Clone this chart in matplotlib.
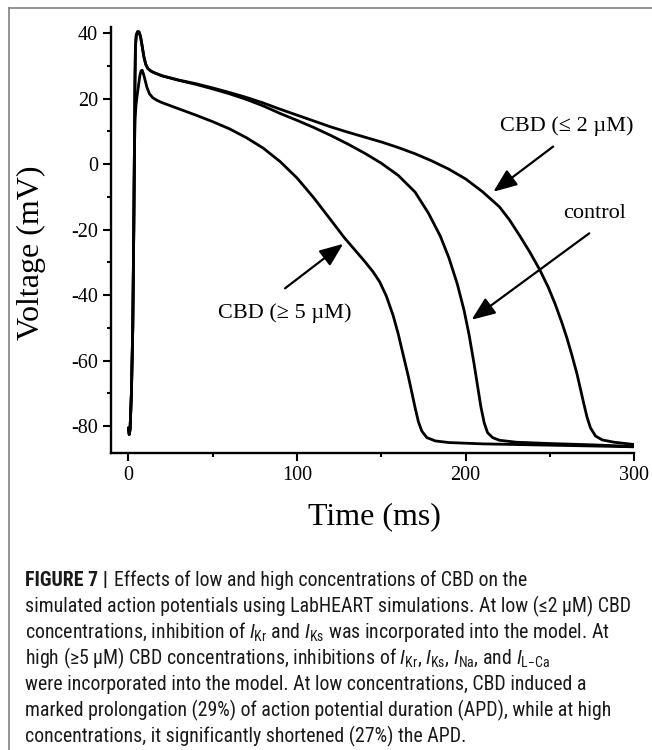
import matplotlib
matplotlib.use("Agg")
import matplotlib.pyplot as plt
from matplotlib.lines import Line2D
from matplotlib.ticker import FixedLocator, MultipleLocator
from matplotlib import font_manager as fm
from matplotlib.patches import ArrowStyle

# ---------------- data ----------------
t_control = [0, 0.5, 1.0, 1.8, 2.6, 3.2, 3.6, 3.9, 4.2, 4.7,
             5.5, 6.3, 7.2, 8.2, 9.2, 10.3, 11.6, 13.5, 16, 20,
             30, 40, 50, 60, 70, 80, 90, 100, 110, 120,
             130, 140, 150, 160, 170, 178, 185, 190, 195, 199,
             202, 205, 207, 209, 211, 213, 216, 220, 230, 250,
             275, 300]
v_control = [-80.5, -82.5, -81, -70, -50, -20, 5, 25, 36, 39.5,
             40.5, 40.4, 39, 36, 32.8, 30.5, 29.2, 28.4, 27.8, 27.0,
             25.6, 24.4, 23.0, 21.5, 19.8, 17.8, 15.5, 13.4, 11.2, 8.8,
             6.2, 3.4, 0.3, -3.4, -8.5, -15.0, -22.0, -28.5, -36.5, -44.5,
             -52, -61, -67.5, -74, -79, -82, -83.5, -84.3, -84.9, -85.3,
             -85.7, -86.2]

t_low = [0, 0.5, 1.0, 1.8, 2.6, 3.2, 3.6, 3.9, 4.2, 4.7,
         5.5, 6.3, 7.2, 8.2, 9.2, 10.3, 11.6, 13.5, 16, 20,
         30, 40, 50, 60, 70, 80, 90, 100, 110, 120,
         130, 140, 150, 160, 170, 180, 190, 200, 210, 220,
         226, 232, 238, 244, 249, 253, 257, 260, 263, 266,
         268, 270, 272, 274, 277, 281, 288, 300]
v_low = [-80.5, -82.5, -81, -70, -50, -20, 5, 25, 36, 39.5,
         40.5, 40.4, 39, 36, 32.8, 30.5, 29.2, 28.4, 27.8, 27.0,
         25.7, 24.6, 23.3, 21.9, 20.4, 18.7, 16.8, 15.0, 13.2, 11.4,
         9.8, 8.3, 6.8, 5.1, 3.2, 1.0, -1.5, -4.5, -8.4, -13,
         -17, -21.8, -26.8, -32.3, -37.6, -42.6, -48.3, -53, -58.3, -64,
         -68.5, -73, -77.3, -80.5, -83, -84.2, -84.9, -85.6]

t_high = [0, 0.5, 1.0, 1.8, 2.6, 3.2, 3.6, 4.0, 4.5, 5.2,
          6.0, 6.8, 7.5, 8.2, 9.0, 10, 11, 12.5, 14.5, 17,
          20, 30, 40, 50, 60, 70, 80, 90, 100, 110,
          120, 128, 135, 140, 145, 149, 153, 157, 160, 163,
          166, 168, 170, 172, 174, 177, 182, 190, 210, 250,
          300]
v_high = [-80.5, -82.5, -81, -70, -50, -20, 5, 14, 18, 21,
          24, 27, 28.5, 28.7, 27.5, 25.5, 23.5, 21.5, 20.3, 19.5,
          18.8, 16.9, 15.0, 13.0, 10.8, 8.1, 4.9, 0.8, -4.2, -10.3,
          -17.0, -22.4, -26.6, -29.6, -32.8, -35.9, -40.3, -46.2, -51.8, -58.3,
          -64.8, -69.5, -74.3, -78.7, -81.5, -83.5, -84.5, -85, -85.4, -85.8,
          -86.3]

series_labels = ["control", "CBD (\u2264 2 \u00b5M)", "CBD (\u2265 5 \u00b5M)"]
x_ticks = [0, 100, 200, 300]
y_ticks = [-80, -60, -40, -20, 0, 20, 40]
x_label = "Time (ms)"
y_label = "Voltage (mV)"

caption_bold = "FIGURE 7 |"
caption_first = "Effects of low and high concentrations of CBD on the"
caption_lines = [
    "simulated action potentials using LabHEART simulations. At low (\u22642 \u00b5M) CBD",
    "concentrations, inhibition of $I_{\\mathrm{Kr}}$ and $I_{\\mathrm{Ks}}$ was incorporated into the model. At",
    "high (\u22655 \u00b5M) CBD concentrations, inhibitions of $I_{\\mathrm{Kr}}$, $I_{\\mathrm{Ks}}$, "
    "$I_{\\mathrm{Na}}$, and $I_{\\mathrm{L{-}Ca}}$",
    "were incorporated into the model. At low concentrations, CBD induced a",
    "marked prolongation (29%) of action potential duration (APD), while at high",
    "concentrations, it significantly shortened (27%) the APD.",
]

# ---------------- fonts ----------------
def has_font(name):
    try:
        fm.findfont(fm.FontProperties(family=name), fallback_to_default=False)
        return True
    except Exception:
        return False

cap_font = "Liberation Sans"
for cand in ["Liberation Sans Narrow", "Roboto Condensed", "DejaVu Sans Condensed",
             "Open Sans Condensed", "Roboto"]:
    if has_font(cand):
        cap_font = cand
        break

plt.rcParams["font.family"] = ["Liberation Serif", "DejaVu Serif"]
plt.rcParams["axes.unicode_minus"] = False
plt.rcParams["mathtext.fontset"] = "custom"
plt.rcParams["mathtext.rm"] = cap_font
plt.rcParams["mathtext.it"] = cap_font + ":italic"
plt.rcParams["mathtext.bf"] = cap_font + ":bold"

W, H = 652, 750
fig = plt.figure(figsize=(W / 100, H / 100), dpi=100)

def fx(x):
    return x / W

def fy(y):
    return 1 - y / H

ax_l, ax_r, ax_t, ax_b = 111, 634.3, 26.7, 452.7
ax = fig.add_axes([fx(ax_l), fy(ax_b), (ax_r - ax_l) / W, (ax_b - ax_t) / H])

for t, v in [(t_control, v_control), (t_low, v_low), (t_high, v_high)]:
    ax.plot(t, v, color="black", lw=2.0, solid_joinstyle="round", solid_capstyle="round")

ax.set_xlim(-10.3, 300)
ax.set_ylim(-88.1, 42)
for s in ["top", "right"]:
    ax.spines[s].set_visible(False)
for s in ["left", "bottom"]:
    ax.spines[s].set_linewidth(1.7)
ax.xaxis.set_major_locator(FixedLocator(x_ticks))
ax.xaxis.set_minor_locator(MultipleLocator(50))
ax.yaxis.set_major_locator(FixedLocator(y_ticks))
ax.yaxis.set_minor_locator(MultipleLocator(10))
ax.tick_params(which="major", direction="out", length=5.5, width=1.5, labelsize=14.5, colors="black")
ax.tick_params(which="minor", direction="out", length=3.2, width=1.5)
ax.tick_params(axis="x", which="major", pad=4)
ax.tick_params(axis="y", which="major", pad=4)

ax.text(-0.152, 0.470, y_label, rotation=90, ha="center", va="center",
        transform=ax.transAxes, fontsize=23)
ax.text(0.5026, -0.151, x_label, ha="center", va="center",
        transform=ax.transAxes, fontsize=23)

# annotations
astyle = ArrowStyle("-|>", head_length=0.8, head_width=0.32)
arrow_kw = dict(arrowstyle=astyle, lw=1.6, color="black", mutation_scale=18,
                shrinkA=0, shrinkB=0)
ax.text(259.9, 11.5, series_labels[1], ha="center", va="center", fontsize=16)
ax.annotate("", xy=(216.4, -8.4), xytext=(251.9, 5.4), arrowprops=arrow_kw)
ax.text(276.6, -15.0, series_labels[0], ha="center", va="center", fontsize=16)
ax.annotate("", xy=(203.5, -47.5), xytext=(273.3, -21.1), arrowprops=arrow_kw)
ax.text(92.9, -45.4, series_labels[2], ha="center", va="center", fontsize=16)
ax.annotate("", xy=(127.4, -24.3), xytext=(92.9, -37.9), arrowprops=arrow_kw)

# frame lines of the page
frame_col = "#808080"
fig.add_artist(Line2D([fx(9), fx(9)], [0, fy(8)], color=frame_col, lw=1.2))
fig.add_artist(Line2D([fx(9), 1], [fy(8), fy(8)], color=frame_col, lw=1.2))

# caption: fit font size so that line 2 spans the measured width
renderer = fig.canvas.get_renderer()
probe = fig.text(0, 0, caption_lines[0], fontsize=10, family=cap_font)
w10 = probe.get_window_extent(renderer).width
probe.remove()
cap_size = 10 * 602 / w10

cap_x = 25
base0 = 586.5
step = 26.0
cap_col = "#1a1a1a"
tb = fig.text(fx(cap_x), fy(base0), caption_bold, fontsize=cap_size, family=cap_font,
              weight="bold", va="baseline", ha="left", color=cap_col)
bw = tb.get_window_extent(renderer).width
fig.text(fx(cap_x + bw + 0.32 * cap_size * 100 / 72), fy(base0), caption_first,
         fontsize=cap_size, family=cap_font, va="baseline", ha="left", color=cap_col)
for i, line in enumerate(caption_lines):
    fig.text(fx(cap_x), fy(base0 + step * (i + 1)), line, fontsize=cap_size,
             family=cap_font, va="baseline", ha="left", color=cap_col)

fig.savefig("out.png", dpi=100)
